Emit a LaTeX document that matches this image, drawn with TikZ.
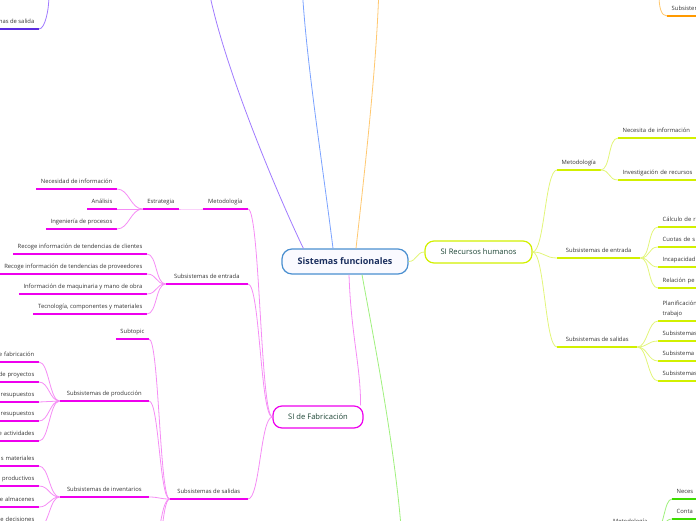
\documentclass[tikz,border=0pt]{standalone}
\usepackage{fontspec}
\setmainfont{Open Sans}
\usepackage{tikz}
\usetikzlibrary{positioning}
\definecolor{fabline}{HTML}{F58CF5}
\definecolor{fabbar}{HTML}{EE00EE}
\definecolor{recline}{HTML}{E2F57A}
\definecolor{recbar}{HTML}{D2F000}
\definecolor{mainblue}{HTML}{4A8FD0}
\definecolor{maintext}{HTML}{1B2F5E}
\definecolor{sitext}{HTML}{1D4535}
\definecolor{violetline}{HTML}{A07AFF}
\definecolor{violetbar}{HTML}{5A2BE0}
\definecolor{blueline}{HTML}{7AA2FF}
\definecolor{orangeline}{HTML}{FFC870}
\definecolor{orangebar}{HTML}{FF9A00}
\definecolor{greenline}{HTML}{A0F07E}
\definecolor{greenbar}{HTML}{3DDC00}

\begin{document}
\begin{tikzpicture}[x=1pt,y=-1pt,
topic/.style={font=\fontsize{5.85}{10}\selectfont,text=black!80,inner xsep=4.5pt,inner ysep=3.5pt,
  text height=4.3pt,text depth=1.5pt,
  append after command={(\tikzlastnode.south west) edge[draw=#1,line width=1.5pt] (\tikzlastnode.south east)}},
lt/.style={topic=#1,anchor=south east},
rt/.style={topic=#1,anchor=south west},
cutl/.style={text width=60pt,align=right},
cutr/.style={text width=110pt,align=left},
si/.style={draw=#1,line width=1.2pt,rounded corners=9pt,fill=white,text=sitext,
  font=\fontsize{7.6}{9}\selectfont,minimum height=22pt},
lc/.style={to path={.. controls +(-#1,0) and +(#1,0) .. (\tikztotarget)}},
rc/.style={to path={.. controls +(#1,0) and +(-#1,0) .. (\tikztotarget)}},
lc/.default=10,rc/.default=10,
fl/.style={draw=fabline,line width=0.8pt},
rl/.style={draw=recline,line width=0.8pt}]
\useasboundingbox (0,0) rectangle (696,520);
\clip (0,0) rectangle (696,520);

\coordinate (vtop) at (49,-5);
\coordinate (vsrc) at (207,-20);
\coordinate (bsrc) at (302,-15);
\coordinate (osrc) at (379,-15);
\coordinate (otop) at (659,-5);
\coordinate (gsrc) at (402,540);
\coordinate (fx1) at (149,560);
\coordinate (fx2) at (149,615);

\node[draw=mainblue,line width=1.2pt,rounded corners=10pt,fill=blue!2,text=maintext,
  font=\bfseries\fontsize{9}{10}\selectfont,minimum width=126pt,minimum height=25pt] (sf) at (345,261.5) {Sistemas funcionales};
\node[si=recbar,minimum width=107pt] (rh) at (478.5,252) {SI Recursos humanos};
\node[si=fabbar,minimum width=90pt] (fab) at (318,417) {SI de Fabricación};

\draw[violetline,line width=0.8pt] ([xshift=22pt]sf.north west) .. controls (280,200) and (220,60) .. (vsrc);
\draw[blueline,line width=0.8pt] ([xshift=-12pt]sf.north) .. controls (322,160) and (306,60) .. (bsrc);
\draw[orangeline,line width=0.8pt] ([xshift=11pt]sf.north) .. controls (366,160) and (377,60) .. (osrc);
\draw[greenline,line width=0.8pt] ([xshift=17pt]sf.south) .. controls (372,330) and (396,450) .. (gsrc);
\draw[rl] (sf.east) to[rc=8] (rh.west);
\draw[fl] ([xshift=4pt]sf.south) .. controls +(2,60) and +(0,-40) .. ([xshift=-3pt]fab.north east);

\node[lt=violetbar] (vsal) at (39,29) {Subsistemas de salida};
\draw[violetline,line width=0.8pt] (vsal.south east) .. controls +(6,0) and +(0,15) .. (vtop);
\node[rt=orangebar,cutr] (osub) at (667,16) {Subsistemas};
\draw[orangeline,line width=0.8pt] (otop) .. controls +(0,12) and +(-6,0) .. (osub.south west);

\node[lt=fabbar,minimum width=45pt] (fmet) at (248,209) {Metodología};
\node[lt=fabbar] (fest) at (179,209) {Estrategia};
\node[lt=fabbar] (fnec) at (117,189) {Necesidad de información};
\node[lt=fabbar] (fana) at (117,209) {Análisis};
\node[lt=fabbar] (fing) at (117,229) {Ingeniería de procesos};
\draw[fl] (fab.west) to[lc=12] (fmet.south east);
\draw[draw=fabline!60,line width=0.8pt] (fmet.south west) to[lc] (fest.south east);
\foreach \n in {fnec,fana,fing}
  \draw[fl] (fest.south west) to[lc=12] (\n.south east);

\node[lt=fabbar,minimum width=82pt] (fent) at (248,284) {Subsistemas de entrada};
\node[lt=fabbar] (fcli) at (147,254) {Recoge información de tendencias de clientes};
\node[lt=fabbar] (fpro) at (147,274) {Recoge información de tendencias de proveedores};
\node[lt=fabbar] (fmaq) at (147,294) {Información de maquinaria y mano de obra};
\node[lt=fabbar] (ftec) at (147,314) {Tecnología, componentes y materiales};
\draw[fl] (fab.west) to[lc=12] (fent.south east);
\foreach \n in {fcli,fpro,fmaq,ftec}
  \draw[fl] (fent.south west) to[lc] (\n.south east);

\node[lt=fabbar,minimum width=78pt] (fsal) at (248,499) {Subsistemas de salidas};
\node[lt=fabbar] (fsub) at (149,339) {Subtopic};
\node[lt=fabbar,minimum width=89pt] (fprd) at (149,401) {Subsistemas de producción};
\node[lt=fabbar,minimum width=89pt] (finv) at (149,497) {Subsistemas de inventarios};
\draw[fl] (fab.west) to[lc=12] (fsal.south east);
\foreach \n in {fsub,fprd,finv}
  \draw[fl] (fsal.south west) to[lc] (\n.south east);
\foreach \n in {fx1,fx2}
  \draw[fl] (fsal.south west) to[lc] (\n);
\foreach \txt/\yy [count=\i] in {e fabricación/362,de proyectos/382,resupuestos/402,resupuestos/421,e actividades/441}{
  \node[lt=fabbar,cutl] (fp\i) at (39,\yy) {\txt};
  \draw[fl] (fprd.south west) to[lc] (fp\i.south east);
}
\foreach \txt/\yy [count=\i] in {s materiales/466,productivos/486,e almacenes/507,e decisiones/527}{
  \node[lt=fabbar,cutl] (fi\i) at (39,\yy) {\txt};
  \draw[fl] (finv.south west) to[lc] (fi\i.south east);
}

\node[rt=recbar,minimum width=41pt] (rmet) at (557,170) {Metodología};
\node[rt=recbar,cutr] (rnec) at (618,138) {Necesita de información};
\node[rt=recbar,cutr] (rinv) at (618,180) {Investigación de recursos};
\draw[rl] (rh.east) to[rc=12] (rmet.south west);
\foreach \n in {rnec,rinv}
  \draw[rl] (rmet.south east) to[rc] (\n.south west);

\node[rt=recbar,minimum width=83pt] (rent) at (557,258) {Subsistemas de entrada};
\draw[rl] (rh.east) to[rc=12] (rent.south west);
\foreach \txt/\yy [count=\i] in {Cálculo de r/227,Cuotas de s/247,Incapacidad/267,Relación pe/288}{
  \node[rt=recbar,cutr] (re\i) at (658,\yy) {\txt};
  \draw[rl] (rent.south east) to[rc] (re\i.south west);
}

\node[rt=recbar,minimum width=80pt] (rsal) at (557,347) {Subsistemas de salidas};
\node[rt=recbar,cutr,text height=,text depth=] (rpla) at (658,321) {Planificación\\trabajo};
\draw[rl] (rh.east) to[rc=12] (rsal.south west);
\draw[rl] (rsal.south east) to[rc] (rpla.south west);
\foreach \txt/\yy [count=\i] in {Subsistemas/341,Subsistema I/361,Subsistemas/381}{
  \node[rt=recbar,cutr] (rs\i) at (658,\yy) {\txt};
  \draw[rl] (rsal.south east) to[rc] (rs\i.south west);
}

\node[rt=greenbar,minimum width=52pt] (gmet) at (604,529) {Metodología};
\node[rt=greenbar,cutr] (gnec) at (672,499) {Neces};
\node[rt=greenbar,cutr] (gcon) at (672,519) {Conta};
\foreach \n in {gnec,gcon}
  \draw[greenline,line width=0.8pt] (gmet.south east) to[rc=8] (\n.south west);
\end{tikzpicture}
\end{document}
